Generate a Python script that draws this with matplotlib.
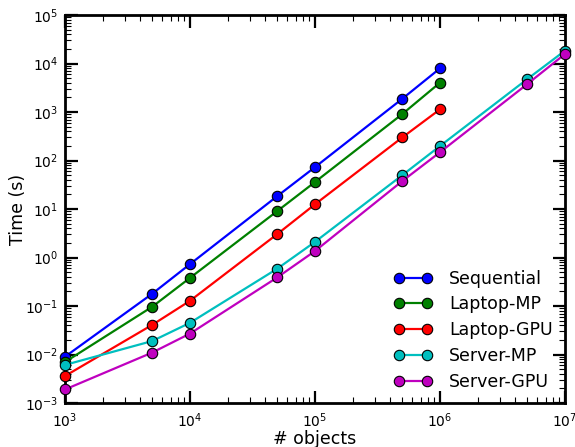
import matplotlib
matplotlib.use("Agg")
import matplotlib.pyplot as plt
from matplotlib.ticker import LogLocator, NullFormatter

x_small = [1e3, 5e3, 1e4, 5e4, 1e5, 5e5, 1e6]
x_large = [1e3, 5e3, 1e4, 5e4, 1e5, 5e5, 1e6, 5e6, 1e7]

sequential = [0.009, 0.18, 0.73, 18.5, 73, 1880, 7950]
laptop_mp = [0.007, 0.097, 0.38, 9.1, 36, 910, 4030]
laptop_gpu = [0.0036, 0.041, 0.128, 3.05, 12.5, 300, 1135]
server_mp = [0.0061, 0.019, 0.045, 0.59, 2.1, 50, 199, 4790, 18400]
server_gpu = [0.0019, 0.011, 0.027, 0.39, 1.36, 37.8, 148, 3780, 15700]

labels = ["Sequential", "Laptop-MP", "Laptop-GPU", "Server-MP", "Server-GPU"]
colors = ["#0000ff", "#008000", "#ff0000", "#00bfbf", "#bf00bf"]

fig = plt.figure(figsize=(5.75, 4.47), dpi=100)
ax = fig.add_axes([0.113, 0.0984, 0.8696, 0.868])

series = [(x_small, sequential), (x_small, laptop_mp), (x_small, laptop_gpu),
          (x_large, server_mp), (x_large, server_gpu)]
for (xs, ys), lab, col in zip(series, labels, colors):
    ax.plot(xs, ys, '-o', color=col, lw=1.6, markersize=7.5,
            markeredgecolor='black', markeredgewidth=0.8, label=lab, clip_on=False, zorder=3)

ax.set_xscale('log')
ax.set_yscale('log')
ax.set_xlim(1e3, 1e7)
ax.set_ylim(1e-3, 1e5)
ax.xaxis.set_major_locator(LogLocator(base=10, numticks=20))
ax.yaxis.set_major_locator(LogLocator(base=10, numticks=20))
ax.xaxis.set_minor_locator(LogLocator(base=10, subs=range(2, 10), numticks=100))
ax.yaxis.set_minor_locator(LogLocator(base=10, subs=range(2, 10), numticks=100))
ax.xaxis.set_minor_formatter(NullFormatter())
ax.yaxis.set_minor_formatter(NullFormatter())

ax.tick_params(which='major', direction='in', length=9, width=1.6,
               top=True, right=True, labelsize=10, pad=6)
ax.tick_params(axis='y', which='major', pad=5)
ax.tick_params(which='minor', direction='in', length=4, width=0.8, top=True, right=True)
for s in ax.spines.values():
    s.set_linewidth(2)

ax.set_xlabel('# objects', fontsize=12.5, labelpad=0)
ax.set_ylabel('Time (s)', fontsize=12.5)
ax.yaxis.set_label_coords(-0.076, 0.5)

leg = ax.legend(loc='lower right', frameon=False, numpoints=2, fontsize=12.5,
                handlelength=2.2, handletextpad=1.0, labelspacing=0.45,
                borderaxespad=0.3)

fig.savefig('out.png', dpi=100)
